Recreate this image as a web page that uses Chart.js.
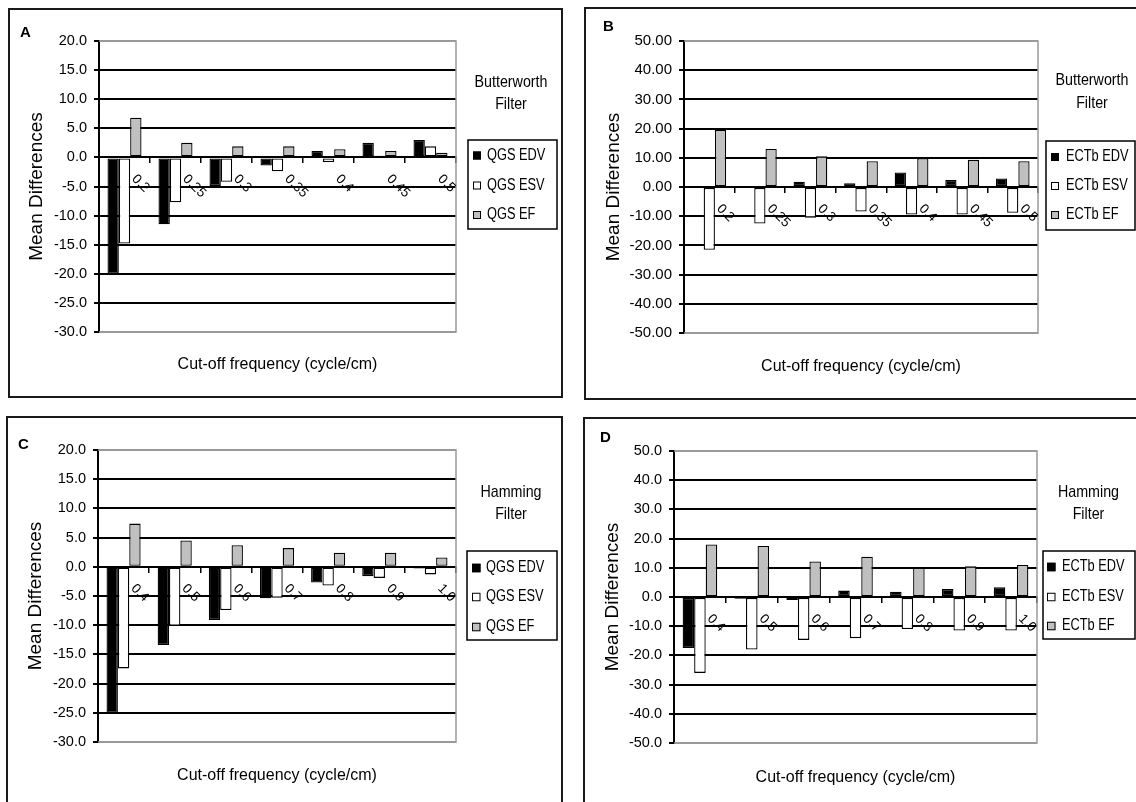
<!DOCTYPE html>
<html>
<head>
<meta charset="utf-8">
<script src="https://cdn.jsdelivr.net/npm/chart.js@4.4.0/dist/chart.umd.min.js"></script>
<style>
html,body{margin:0;padding:0;background:#fff;width:1136px;height:802px;overflow:hidden;position:relative;}
.frame{position:absolute;border:2px solid #1a1a1a;box-sizing:border-box;}
canvas{position:absolute;}
</style>
</head>
<body>
<div class="frame" style="left:8px;top:8px;width:555px;height:390px"></div>
<div class="frame" style="left:584px;top:7px;width:570px;height:393px"></div>
<div class="frame" style="left:6px;top:416px;width:557px;height:400px"></div>
<div class="frame" style="left:583px;top:417px;width:570px;height:400px"></div>
<canvas id="cA"></canvas>
<canvas id="cB"></canvas>
<canvas id="cC"></canvas>
<canvas id="cD"></canvas>
<script>
// ---------------- DATA ----------------
const categoriesButterworth = ['0.2', '0.25', '0.3', '0.35', '0.4', '0.45', '0.5'];
const categoriesHamming = ['0.4', '0.5', '0.6', '0.7', '0.8', '0.9', '1.0'];

const seriesQGS = ['QGS EDV', 'QGS ESV', 'QGS EF'];
const seriesECTb = ['ECTb EDV', 'ECTb ESV', 'ECTb EF'];

// Panel A: Butterworth, QGS
const qgsButterEDV = [-20.0, -11.5, -4.9, -1.4, 1.1, 2.5, 3.0];
const qgsButterESV = [-14.8, -7.7, -4.2, -2.4, -0.8, 0.3, 1.9];
const qgsButterEF  = [6.8, 2.5, 1.9, 1.9, 1.4, 1.1, 0.8];

// Panel B: Butterworth, ECTb
const ectbButterEDV = [0.2, 0.2, 1.8, 1.3, 5.0, 2.4, 2.9];
const ectbButterESV = [-21.5, -12.5, -10.5, -8.4, -9.4, -9.4, -8.8];
const ectbButterEF  = [19.5, 13.0, 10.5, 8.8, 9.9, 9.3, 8.8];

// Panel C: Hamming, QGS
const qgsHammEDV = [-25.0, -13.4, -9.1, -5.4, -2.7, -1.6, -0.3];
const qgsHammESV = [-17.4, -10.1, -7.4, -5.3, -3.2, -1.9, -1.3];
const qgsHammEF  = [7.4, 4.5, 3.7, 3.2, 2.4, 2.4, 1.6];

// Panel D: Hamming, ECTb
const ectbHammEDV = [-17.5, -0.6, -1.0, 2.2, 1.8, 2.7, 3.3];
const ectbHammESV = [-26.0, -18.0, -14.7, -14.1, -11.0, -11.5, -11.5];
const ectbHammEF  = [18.0, 17.5, 12.2, 13.8, 10.0, 10.5, 11.0];

// axis ranges / tick labels
const qgsYMin = -30, qgsYMax = 20, qgsYStep = 5;
const ectbYMin = -50, ectbYMax = 50, ectbYStep = 10;

const xAxisTitle = 'Cut-off frequency (cycle/cm)';
const yAxisTitle = 'Mean Differences';
const butterworthTitle = ['Butterworth', 'Filter'];
const hammingTitle = ['Hamming', 'Filter'];

// ---------------- STYLE ----------------
const SERIES_COLORS = ['#000000', '#ffffff', '#c0c0c0'];
const FONT = "'Liberation Sans', Arial, sans-serif";
Chart.defaults.font.family = FONT;
Chart.defaults.color = '#000';

// ---------------- LAYOUT (page coordinates) ----------------
const LAYOUT = {
  A: {cid: 'cA', canvas: [10, 10, 551, 386], plot: [99, 41, 456, 332], yTitleX: 36.5, xTitleY: 364.5,
      legend: [468, 140, 557, 229], legendY: [155.5, 185.5, 215], swX: 473, sw: 8, txtX: 487,
      filterX: 511, filterY: [82, 104], letter: [20, 37], tickSize: 14.5, decimals: 1},
  B: {cid: 'cB', canvas: [586, 9, 550, 389], plot: [684, 41, 1038, 333], yTitleX: 614, xTitleY: 367,
      legend: [1046, 141, 1135, 230], legendY: [157, 186, 215], swX: 1051, sw: 8, txtX: 1066,
      filterX: 1092, filterY: [80, 103], letter: [603, 31], tickSize: 15, decimals: 2},
  C: {cid: 'cC', canvas: [8, 418, 553, 384], plot: [98, 450, 456, 742], yTitleX: 36, xTitleY: 776,
      legend: [467, 551, 557, 640], legendY: [568, 597, 627], swX: 472, sw: 8.5, txtX: 486,
      filterX: 511, filterY: [492, 514], letter: [18, 449], tickSize: 14.5, decimals: 1},
  D: {cid: 'cD', canvas: [585, 419, 551, 383], plot: [674, 451, 1037, 743], yTitleX: 612.5, xTitleY: 777.5,
      legend: [1043, 551, 1135, 639], legendY: [567, 597, 626], swX: 1047, sw: 8.5, txtX: 1062,
      filterX: 1088.5, filterY: [492, 514], letter: [600, 442], tickSize: 14.5, decimals: 1}
};

// draw text with a condensed look (horizontal squeeze)
function narrowText(ctx, s, x, y, sx) {
  ctx.save();
  ctx.translate(x, y);
  ctx.scale(sx, 1);
  ctx.fillText(s, 0, 0);
  ctx.restore();
}

const panelDecor = {
  id: 'panelDecor',
  beforeDatasetsDraw(chart, args, o) {
    const {ctx, chartArea: a} = chart;
    ctx.save();
    ctx.strokeStyle = '#9a9a9a';
    ctx.lineWidth = 1.5;
    ctx.beginPath();
    ctx.moveTo(a.left, a.top);
    ctx.lineTo(a.right, a.top);
    ctx.lineTo(a.right, a.bottom);
    ctx.lineTo(a.left, a.bottom);
    ctx.stroke();
    ctx.restore();
  },
  afterDraw(chart, args, o) {
    const ctx = chart.ctx;
    const xs = chart.scales.x, ys = chart.scales.y;
    const zero = ys.getPixelForValue(0);
    ctx.save();
    // category labels, rotated, hanging from the zero line
    ctx.fillStyle = '#000';
    ctx.font = '13.5px ' + FONT;
    ctx.textAlign = 'left';
    ctx.textBaseline = 'middle';
    xs.ticks.forEach((t, i) => {
      const px = xs.getPixelForTick(i);
      ctx.save();
      ctx.translate(px + 9.5, zero + 19.5);
      ctx.rotate(Math.PI / 4);
      ctx.fillText(xs.getLabelForValue(t.value), 0, 0);
      ctx.restore();
    });
    // panel letter
    ctx.font = 'bold 15px ' + FONT;
    ctx.textBaseline = 'alphabetic';
    ctx.fillText(o.letterText, o.letter[0], o.letter[1]);
    // filter title (centered, condensed)
    ctx.font = '17px ' + FONT;
    ctx.textAlign = 'left';
    ctx.textBaseline = 'middle';
    o.filterText.forEach((s, i) => {
      const wdt = ctx.measureText(s).width * 0.84;
      narrowText(ctx, s, o.filterX - wdt / 2, o.filterY[i], 0.84);
    });
    // legend box
    const L = o.legend;
    ctx.strokeStyle = '#000';
    ctx.lineWidth = 1.5;
    ctx.strokeRect(L[0], L[1], L[2] - L[0], L[3] - L[1]);
    ctx.font = '16px ' + FONT;
    ctx.textAlign = 'left';
    chart.data.datasets.forEach((ds, i) => {
      const cy = o.legendY[i];
      ctx.fillStyle = ds.backgroundColor;
      ctx.fillRect(o.swX, cy - o.sw / 2, o.sw, o.sw);
      ctx.lineWidth = 1;
      ctx.strokeStyle = '#000';
      ctx.strokeRect(o.swX + 0.5, cy - o.sw / 2 + 0.5, o.sw - 1, o.sw - 1);
      ctx.fillStyle = '#000';
      narrowText(ctx, ds.label, o.txtX, cy, 0.8);
    });
    ctx.restore();
  }
};

function makePanel(key, D) {
  const P = LAYOUT[key];
  const cv = document.getElementById(P.cid);
  const [x0, y0, w, h] = P.canvas;
  cv.width = w; cv.height = h;
  cv.style.left = x0 + 'px'; cv.style.top = y0 + 'px';
  const l = P.plot[0] - x0, t = P.plot[1] - y0, r = P.plot[2] - x0, b = P.plot[3] - y0;
  const ySize = 19, xSize = 16;
  const yLH = ySize * 1.2, xLH = xSize * 1.2;
  const H = P.xTitleY - P.plot[3] + xLH / 2;
  const yMin = D.yMin, yMax = D.yMax;
  new Chart(cv, {
    type: 'bar',
    data: {
      labels: D.categories,
      datasets: D.series.map((s, i) => ({
        label: s,
        data: D.values[i],
        backgroundColor: SERIES_COLORS[i],
        borderColor: '#000',
        borderWidth: 1.3,
        borderSkipped: false,
        xAxisID: 'x',
        yAxisID: 'y',
        categoryPercentage: 0.667,
        barPercentage: 1.0
      }))
    },
    options: {
      responsive: false,
      animation: false,
      devicePixelRatio: 1,
      events: [],
      layout: {padding: {left: 0, top: t, right: w - r, bottom: h - b - H}},
      plugins: {
        legend: {display: false},
        tooltip: {enabled: false},
        panelDecor: {
          letterText: key,
          letter: [P.letter[0] - x0, P.letter[1] - y0],
          filterText: D.filterTitle,
          filterX: P.filterX - x0,
          filterY: P.filterY.map(v => v - y0),
          legend: [P.legend[0] - x0, P.legend[1] - y0, P.legend[2] - x0, P.legend[3] - y0],
          legendY: P.legendY.map(v => v - y0),
          swX: P.swX - x0, sw: P.sw, txtX: P.txtX - x0
        }
      },
      scales: {
        x: {
          type: 'category',
          position: {y: 0},
          afterFit: s => { s.height = 0; },
          ticks: {display: false},
          grid: {display: true, drawOnChartArea: false, drawTicks: true, tickLength: 5, offset: true, color: '#000', lineWidth: 1.5},
          border: {display: true, color: '#000', width: 2}
        },
        x2: {
          type: 'category',
          position: 'bottom',
          afterFit: s => { s.height = H; },
          ticks: {display: false},
          grid: {display: false},
          border: {display: false},
          title: {display: true, text: xAxisTitle, color: '#000', font: {size: xSize}, padding: 0}
        },
        y: {
          type: 'linear',
          position: 'left',
          min: yMin, max: yMax,
          afterFit: s => { s.width = l; },
          ticks: {stepSize: D.yStep, callback: v => Number(v).toFixed(P.decimals), color: '#000', font: {size: P.tickSize}, padding: 7},
          grid: {
            color: c => (c.tick && (c.tick.value === yMax || c.tick.value === yMin)) ? '#9a9a9a' : '#000',
            lineWidth: 2, tickColor: '#000', tickLength: 5
          },
          border: {display: true, color: '#000', width: 2},
          title: {display: true, text: yAxisTitle, color: '#000', font: {size: ySize}, padding: {top: P.yTitleX - x0 - yLH / 2, bottom: 0}}
        }
      }
    },
    plugins: [panelDecor]
  });
}

makePanel('A', {categories: categoriesButterworth, series: seriesQGS, values: [qgsButterEDV, qgsButterESV, qgsButterEF],
  yMin: qgsYMin, yMax: qgsYMax, yStep: qgsYStep, filterTitle: butterworthTitle});
makePanel('B', {categories: categoriesButterworth, series: seriesECTb, values: [ectbButterEDV, ectbButterESV, ectbButterEF],
  yMin: ectbYMin, yMax: ectbYMax, yStep: ectbYStep, filterTitle: butterworthTitle});
makePanel('C', {categories: categoriesHamming, series: seriesQGS, values: [qgsHammEDV, qgsHammESV, qgsHammEF],
  yMin: qgsYMin, yMax: qgsYMax, yStep: qgsYStep, filterTitle: hammingTitle});
makePanel('D', {categories: categoriesHamming, series: seriesECTb, values: [ectbHammEDV, ectbHammESV, ectbHammEF],
  yMin: ectbYMin, yMax: ectbYMax, yStep: ectbYStep, filterTitle: hammingTitle});
</script>
</body>
</html>
